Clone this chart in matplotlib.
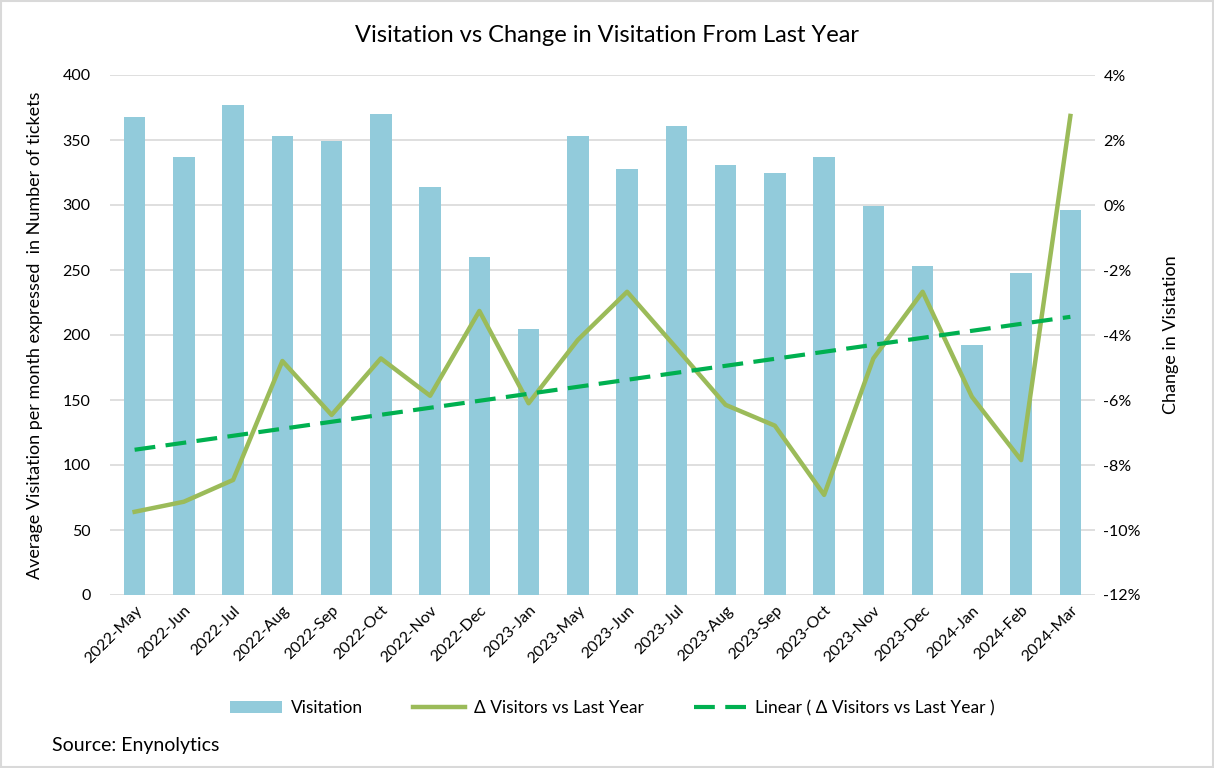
import matplotlib
matplotlib.use('Agg')
import matplotlib.pyplot as plt
import numpy as np
from matplotlib.ticker import FuncFormatter

plt.rcParams['font.family'] = ['Lato', 'DejaVu Sans']

months = ['2022-May', '2022-Jun', '2022-Jul', '2022-Aug', '2022-Sep', '2022-Oct',
          '2022-Nov', '2022-Dec', '2023-Jan', '2023-May', '2023-Jun', '2023-Jul',
          '2023-Aug', '2023-Sep', '2023-Oct', '2023-Nov', '2023-Dec', '2024-Jan',
          '2024-Feb', '2024-Mar']
visitation = [368, 337, 377, 353, 349, 370, 314, 260, 205, 353,
              328, 361, 331, 325, 337, 299, 253, 192, 248, 296]
change_pct = [-9.44, -9.13, -8.46, -4.80, -6.46, -4.72, -5.87, -3.26, -6.10, -4.15,
              -2.67, -4.40, -6.15, -6.79, -8.92, -4.72, -2.67, -5.90, -7.85, 2.74]

x = np.arange(len(months))
# Excel-style linear trendline through the change series
coef = np.polyfit(x, change_pct, 1)
trend = np.polyval(coef, x)

fig = plt.figure(figsize=(12.14, 7.68), dpi=100)
ax = fig.add_axes([110/1214, 1-595/768, (1095-110)/1214, 520/768])
ax2 = ax.twinx()

ax.bar(x, visitation, width=0.44, color='#92CBDB', zorder=2, label='Visitation')
ax2.plot(x, change_pct, color='#9BBB59', lw=3.2, zorder=3, label='Δ Visitors vs Last Year')
ax2.plot(x, trend, color='#00B050', lw=3, ls=(0, (5, 2.5)), zorder=3,
         label='Linear ( Δ Visitors vs Last Year )')

ax.set_xlim(-0.5, len(months) - 0.5)
ax.set_ylim(0, 400)
ax.set_yticks(range(0, 401, 50))
ax2.set_ylim(-12, 4)
ax2.set_yticks(range(-12, 5, 2))
ax2.yaxis.set_major_formatter(FuncFormatter(lambda v, p: '%d%%' % v))

ax.grid(axis='y', color='#D9D9D9', lw=1.2, zorder=0)
ax.set_axisbelow(True)
for a in (ax, ax2):
    for s in a.spines.values():
        s.set_visible(False)
    a.tick_params(length=0, labelsize=11.5, colors='#000000')
ax.set_xticks(x)
ax.set_xticklabels(months, rotation=45, ha='right', rotation_mode='anchor', fontsize=11.5)
ax.tick_params(axis='x', pad=6)
ax.tick_params(axis='y', pad=14)
ax2.tick_params(axis='y', pad=6)

ax.set_ylabel('Average Visitation per month expressed  in Number of tickets', fontsize=13, labelpad=14)
ax2.set_ylabel('Change in Visitation', fontsize=13, labelpad=16)

fig.text(0.5, 1-35/768, 'Visitation vs Change in Visitation From Last Year',
         ha='center', va='center', fontsize=17)

h1, l1 = ax.get_legend_handles_labels()
h2, l2 = ax2.get_legend_handles_labels()
fig.legend(h1 + h2, l1 + l2, loc='center', bbox_to_anchor=(612/1214, 1-708/768),
           ncol=3, frameon=False, fontsize=12.5, columnspacing=2.9, handlelength=3.0,
           handletextpad=0.5)

fig.text(52/1214, 1-746/768, 'Source: Enynolytics', ha='left', va='center', fontsize=14)

border = plt.Rectangle((0.001, 0.001), 0.998, 0.998, transform=fig.transFigure,
                       fill=False, edgecolor='#D9D9D9', lw=1.5)
fig.patches.append(border)

fig.savefig('out.png', dpi=100)
